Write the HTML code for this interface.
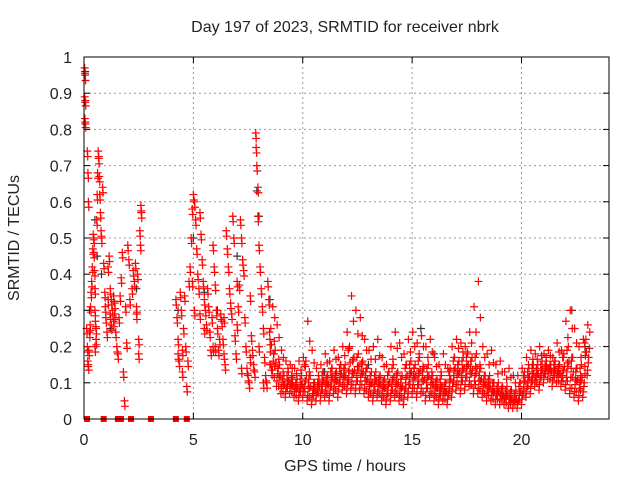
<!DOCTYPE html>
<html><head><meta charset="utf-8"><style>
body{margin:0;background:#fff}
svg text{font-family:"Liberation Sans",sans-serif;font-size:16px;fill:#222}
</style></head><body>
<svg id="chart" width="640" height="480" xmlns="http://www.w3.org/2000/svg">
<rect width="640" height="480" fill="#fff"/>
<text x="345" y="32" text-anchor="middle">Day 197 of 2023, SRMTID for receiver nbrk</text>
<text x="345" y="471" text-anchor="middle">GPS time / hours</text>
<text transform="translate(19,238) rotate(-90)" text-anchor="middle">SRMTID / TECUs</text>
<g id="grid"></g>
<g id="ticks"></g>
<g id="black"></g>
<g id="red"></g>
<rect x="84" y="57" width="525" height="362" fill="none" stroke="#000" stroke-width="1"/>
</svg>
<script>
const xTicks=[0,5,10,15,20];
const yTicks=[0,0.1,0.2,0.3,0.4,0.5,0.6,0.7,0.8,0.9,1];
const yTickLabels=["0","0.1","0.2","0.3","0.4","0.5","0.6","0.7","0.8","0.9","1"];
const denseTimes=[8.6,8.8,9.0,9.2,9.4,9.6,9.8,10.0,10.2,10.4,10.6,10.8,11.0,11.2,11.4,11.6,11.8,12.0,12.2,12.4,12.6,12.8,13.0,13.2,13.4,13.6,13.8,14.0,14.2,14.4,14.6,14.8,15.0,15.2,15.4,15.6,15.8,16.0,16.2,16.4,16.6,16.8,17.0,17.2,17.4,17.6,17.8,18.0,18.2,18.4,18.6,18.8,19.0,19.2,19.4,19.6,19.8,20.0,20.2,20.4,20.6,20.8,21.0,21.2,21.4,21.6,21.8,22.0,22.2,22.4,22.6,22.8,23.0];
const denseLo=[.12,.09,.07,.06,.07,.06,.05,.06,.05,.04,.05,.05,.06,.05,.07,.06,.08,.07,.08,.07,.08,.07,.06,.05,.06,.05,.04,.05,.06,.05,.04,.06,.07,.06,.07,.05,.06,.05,.04,.05,.04,.06,.08,.07,.08,.09,.07,.07,.06,.05,.05,.04,.04,.04,.03,.03,.03,.04,.06,.07,.09,.08,.10,.11,.09,.10,.09,.08,.07,.06,.05,.06,.12];
const denseM1=[.18,.14,.11,.09,.10,.09,.08,.09,.10,.08,.08,.09,.10,.09,.11,.10,.12,.11,.13,.12,.13,.12,.10,.09,.10,.09,.08,.09,.10,.09,.08,.11,.12,.11,.12,.10,.11,.09,.08,.08,.07,.10,.13,.12,.13,.14,.12,.12,.10,.09,.08,.07,.07,.06,.06,.05,.05,.07,.10,.11,.12,.12,.13,.14,.13,.13,.12,.13,.14,.11,.10,.10,.17];
const denseM2=[.25,.19,.15,.12,.13,.11,.11,.12,.16,.12,.10,.11,.13,.12,.14,.13,.15,.15,.20,.17,.18,.16,.14,.13,.13,.12,.11,.13,.15,.13,.12,.15,.16,.15,.17,.14,.15,.12,.11,.12,.10,.14,.17,.16,.17,.18,.17,.18,.14,.12,.12,.10,.10,.09,.09,.08,.08,.10,.13,.14,.15,.15,.16,.16,.15,.16,.15,.18,.20,.17,.14,.15,.22];
const denseHi=[.31,.26,.19,.16,.15,.14,.16,.17,.27,.19,.14,.15,.18,.16,.19,.17,.20,.24,.34,.30,.28,.22,.19,.20,.22,.17,.15,.20,.24,.21,.18,.22,.24,.21,.23,.20,.22,.17,.15,.18,.14,.20,.22,.21,.20,.24,.31,.38,.20,.18,.19,.15,.16,.13,.14,.12,.12,.14,.17,.19,.18,.20,.18,.19,.17,.21,.19,.27,.30,.25,.20,.22,.26];
const earlyT=[0.03,0.05,0.03,0.06,0.04,0.06,0.15,0.18,0.2,0.12,0.15,0.17,0.2,0.22,0.25,0.28,0.3,0.32,0.35,0.38,0.4,0.42,0.45,0.48,0.5,0.5,0.52,0.55,0.55,0.58,0.6,0.62,0.65,0.67,0.7,0.72,0.75,0.78,0.8,0.85,0.9,0.95,0.97,1.0,1.05,1.1,1.15,1.2,1.25,1.3,1.35,1.4,1.45,1.5,1.55,1.6,1.65,1.7,1.75,1.8,1.85,1.9,1.95,2.0,2.05,2.1,2.2,2.25,2.3,2.35,2.4,2.45,2.5,2.5,2.55,2.6,2.62,2.58,2.4,1.35,1.4,1.25,0.45,0.5,1.1,1.2,4.2,4.25,4.3,4.3,4.35,4.4,4.45,4.5,4.5,4.55,4.6,4.65,4.7,4.75,4.8,4.85,4.9,4.95,5.0,5.05,5.1,5.15,5.2,5.25,5.3,5.35,5.4,5.45,5.5,5.55,5.6,5.65,5.7,5.75,5.8,5.85,5.9,5.95,6.0,6.05,6.1,6.15,6.2,6.25,6.3,6.35,6.4,6.45,6.5,6.55,6.6,6.65,6.7,6.75,6.8,6.85,6.9,6.95,7.0,7.05,7.1,7.15,7.2,7.25,7.3,7.35,7.4,7.45,7.5,7.55,7.6,7.65,7.7,7.75,7.8,7.85,7.87,7.9,7.95,7.95,8.0,8.05,8.1,8.15,8.2,8.25,8.3,8.35,8.4,8.45,8.5,8.55,5.3,5.5,6.0,6.4,7.0,7.2,7.6,8.0,8.2,5.9,4.95,5.05];
const earlyV=[.97,.95,.89,.88,.83,.82,.74,.68,.6,.25,.2,.16,.15,.19,.24,.26,.31,.35,.38,.42,.47,.51,.46,.41,.36,.3,.27,.25,.22,.55,.62,.68,.74,.72,.67,.62,.57,.52,.5,.64,.43,.35,.31,.28,.24,.42,.45,.36,.33,.3,.27,.32,.24,.2,.18,.28,.34,.39,.46,.13,.05,.31,.21,.48,.44,.33,.36,.41,.38,.43,.29,.4,.22,.18,.52,.59,.57,.48,.31,.34,.29,.26,.5,.2,.33,.29,.33,.28,.22,.18,.16,.35,.3,.19,.13,.25,.34,.2,.09,.16,.38,.42,.5,.58,.62,.6,.55,.47,.4,.36,.57,.51,.44,.38,.33,.3,.26,.36,.31,.24,.19,.28,.48,.42,.37,.3,.25,.19,.22,.29,.27,.22,.18,.15,.52,.47,.42,.36,.32,.29,.56,.5,.23,.18,.26,.31,.37,.55,.5,.44,.41,.28,.2,.14,.12,.1,.17,.23,.19,.15,.13,.79,.75,.7,.64,.56,.48,.42,.36,.31,.25,.17,.12,.1,.38,.33,.22,.15,.29,.25,.2,.28,.38,.14,.34,.2,.1,.2,.38,.3];
const blackT=[0.05,0.25,0.5,0.6,0.8,1.2,2.4,4.3,5.0,5.5,6.1,7.0,7.9,8.0,8.5,9.5,11,13,15.4,16,18.5,20.5,22.3,22.9];
const blackV=[.96,.3,.55,.45,.4,.25,.36,.3,.5,.35,.3,.45,.63,.56,.33,.12,.13,.15,.25,.18,.1,.15,.3,.2];
const zeroT=[0.14,0.9,1.55,1.69,2.15,3.06,4.2,4.7];

const NS="http://www.w3.org/2000/svg";
const X0=84,X1=609,Y0=419,Y1=57,XMAX=24;
function xs(t){return X0+(X1-X0)*t/XMAX;}
function ys(v){return Y0-(Y0-Y1)*v;}
function mk(tag,attrs,parent){const e=document.createElementNS(NS,tag);for(const k in attrs)e.setAttribute(k,attrs[k]);parent.appendChild(e);return e;}
const grid=document.getElementById('grid'),ticks=document.getElementById('ticks');
xTicks.forEach((t,i)=>{
  const x=xs(t);
  if(t>0){const g=mk('line',{x1:x,x2:x,y1:Y1,y2:Y0,stroke:'#999','stroke-dasharray':'2,3'},grid);
  
  }
  mk('line',{x1:x,x2:x,y1:Y0,y2:Y0-6,stroke:'#000'},ticks);
  mk('line',{x1:x,x2:x,y1:Y1,y2:Y1+6,stroke:'#000'},ticks);
  const l=mk('text',{x:x,y:Y0+26,'text-anchor':'middle'},ticks);l.textContent=String(t);
  
  
});
yTicks.forEach((v,i)=>{
  const y=ys(v);
  if(v>0&&v<1){const g=mk('line',{x1:X0,x2:X1,y1:y,y2:y,stroke:'#999','stroke-dasharray':'2,3'},grid);
  
  }
  mk('line',{x1:X0,x2:X0+6,y1:y,y2:y,stroke:'#000'},ticks);
  mk('line',{x1:X1,x2:X1-6,y1:y,y2:y,stroke:'#000'},ticks);
  const l=mk('text',{x:X0-12,y:y+6,'text-anchor':'end'},ticks);l.textContent=yTickLabels[i];
  
  
});
function plus(t,v,col,parent,name){
  const x=xs(t),y=ys(v);
  const p=mk('path',{d:`M${x-4} ${y}h8M${x} ${y-4}v8`,stroke:col,'stroke-width':1.2,fill:'none'},parent);
  
  
}
const blk=document.getElementById('black'),red=document.getElementById('red');
blackT.forEach((t,i)=>plus(t,blackV[i],'#333',blk,'black-point'));
denseTimes.forEach((t,i)=>{
  const lo=denseLo[i],m1=denseM1[i],m2=denseM2[i],hi=denseHi[i];
  plus(t,lo,'#f00',red,'red-point');
  plus(t+0.07,m1,'#f00',red,'red-point');
  plus(t-0.06,m2,'#f00',red,'red-point');
  plus(t+0.03,hi,'#f00',red,'red-point');
  plus(t+0.1,(m1+m2)/2,'#f00',red,'red-point');
  plus(t-0.1,(lo+m1)/2,'#f00',red,'red-point');
  plus(t+0.05,(lo+m1)/2+0.01,'#f00',red,'red-point');
  plus(t-0.03,(m1+m2)/2-0.01,'#f00',red,'red-point');
  plus(t+0.12,(m2+hi)/2,'#f00',red,'red-point');
  plus(t-0.08,m1+0.005,'#f00',red,'red-point');
  plus(t+0.02,lo+0.015,'#f00',red,'red-point');
  plus(t-0.12,m2-0.01,'#f00',red,'red-point');
});
earlyT.forEach((t,i)=>{
  plus(t,earlyV[i],'#f00',red,'red-point');
  plus(t+0.02,earlyV[i]-0.015,'#f00',red,'red-point');
});
zeroT.forEach(t=>{
  const r=mk('rect',{x:xs(t)-3,y:Y0-3,width:6,height:6,fill:'#f00'},red);
  
  
});
</script>
</body></html>
